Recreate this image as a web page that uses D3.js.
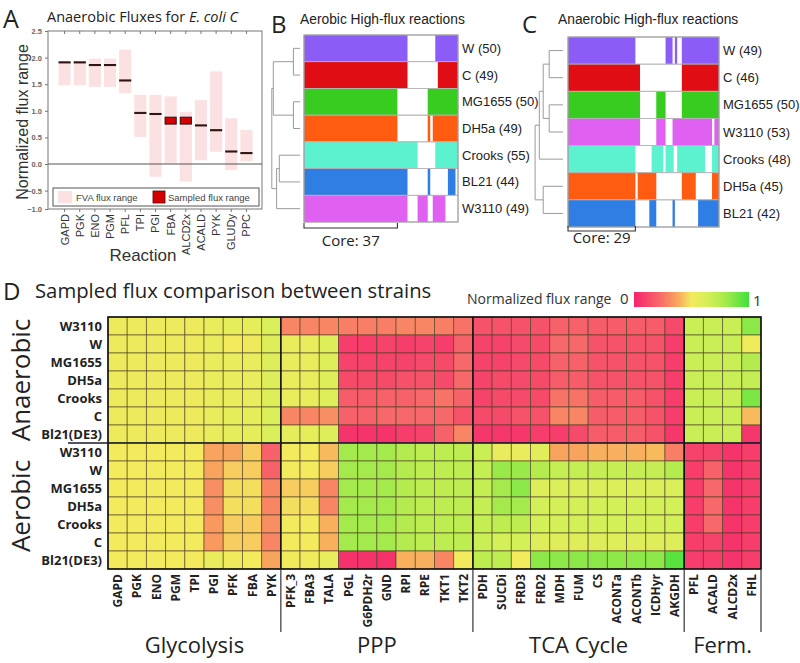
<!DOCTYPE html>
<html><head><meta charset="utf-8">
<script src="https://cdn.jsdelivr.net/npm/d3@7"></script>
<style>body{margin:0;background:#fff;} svg{display:block;}</style>
</head><body>
<svg id="chart" width="800" height="663"></svg>
<script>
// ================= DATA =================
// Panel A
const reactionsA = ["GAPD","PGK","ENO","PGM","PFL","TPI","PGI","FBA","ALCD2x","ACALD","PYK","GLUDy","PPC"];
const fvaLowA  = [1.48, 1.48, 1.45, 1.45, 1.33, 0.51, -0.24, 0.01, -0.33, 0.07, 0.23, -0.11, 0.05];
const fvaHighA = [1.93, 1.93, 1.98, 1.98, 2.15, 1.30, 1.30, 1.27, 0.98, 1.20, 1.74, 0.86, 0.64];
const sampledLowA  = [1.9, 1.9, 1.85, 1.85, 1.56, 0.95, 0.93, 0.75, 0.75, 0.715, 0.625, 0.225, 0.195];
const sampledHighA = [1.92, 1.92, 1.87, 1.87, 1.58, 0.97, 0.95, 0.88, 0.88, 0.735, 0.645, 0.245, 0.215];
const yTicksA = [-1.0, -0.5, 0.0, 0.5, 1.0, 1.5, 2.0, 2.5];

// Panel B (aerobic high-flux reactions)
const strainsB = ["W","C","MG1655","DH5a","Crooks","BL21","W3110"];
const countsB  = [50, 49, 50, 49, 55, 44, 49];
const segmentsB = [
  [[0,41],[52,61]],
  [[0,41],[53,61]],
  [[0,37],[49,61]],
  [[0,37],[49,50],[51,61]],
  [[0,45],[52,61]],
  [[0,41],[49,50],[57,60]],
  [[0,41],[45,49],[51,56]]
];
const nColsB = 61, coreB = 37;
const treeB = {h:0.94, children:[
  {h:0.89, children:[{h:0.22, children:["W","C"]},{h:0.22, children:["MG1655","DH5a"]}]},
  {h:0.78, children:[{h:0.69, children:["Crooks","BL21"]},"W3110"]}]};

// Panel C (anaerobic high-flux reactions)
const strainsC = ["W","C","MG1655","W3110","Crooks","DH5a","BL21"];
const countsC  = [49, 46, 50, 53, 48, 45, 42];
const segmentsC = [
  [[0,29],[42,45],[46,47],[49,65]],
  [[0,31],[49,65]],
  [[0,31],[38,42],[49,65]],
  [[0,31],[38,42],[45,62],[63,65]],
  [[0,29],[36,41],[42,45.5],[47,59],[62,65]],
  [[0,29],[30,38],[49,55],[62,65]],
  [[0,29],[35,38],[45,46],[56,65]]
];
const nColsC = 65, coreC = 29;
const treeC = {h:0.93, children:[
  {h:0.79, children:[{h:0.66, children:[{h:0.46, children:["W","C"]},{h:0.46, children:["MG1655","W3110"]}]},"Crooks"]},
  {h:0.66, children:["DH5a","BL21"]}]};

// Panel D
const conditionsD = ["Anaerobic","Aerobic"];
const strainRowsD = ["W3110","W","MG1655","DH5a","Crooks","C","Bl21(DE3)"];
const glycolysisRxns = ["GAPD","PGK","ENO","PGM","TPI","PGI","PFK","FBA","PYK"];
const pppRxns = ["PFK_3","FBA3","TALA","PGL","G6PDH2r","GND","RPI","RPE","TKT1","TKT2"];
const tcaRxns = ["PDH","SUCDi","FRD3","FRD2","MDH","FUM","CS","ACONTa","ACONTb","ICDHyr","AKGDH"];
const fermRxns = ["PFL","ACALD","ALCD2x","FHL"];
const pathwayNames = ["Glycolysis","PPP","TCA Cycle","Ferm."];
const anaerobicFlux = [
 [.53,.53,.53,.53,.53,.55,.57,.57,.62, .30,.30,.30,.28,.28,.28,.30,.30,.28,.25, .15,.15,.15,.15,.20,.20,.18,.18,.18,.18,.12, .68,.68,.68,.85],
 [.53,.53,.53,.53,.53,.55,.50,.53,.60, .55,.55,.60,.08,.08,.10,.08,.10,.08,.20, .10,.10,.12,.12,.22,.22,.15,.15,.15,.15,.08, .68,.68,.68,.52],
 [.53,.53,.53,.53,.53,.55,.55,.55,.60, .55,.55,.60,.10,.10,.10,.10,.12,.12,.22, .10,.10,.12,.12,.20,.20,.15,.15,.15,.15,.08, .68,.68,.68,.75],
 [.53,.53,.53,.53,.53,.55,.55,.55,.60, .55,.55,.60,.12,.12,.12,.14,.15,.12,.22, .10,.12,.12,.12,.18,.18,.15,.15,.15,.15,.08, .68,.68,.68,.70],
 [.53,.53,.53,.53,.53,.55,.55,.55,.60, .55,.55,.60,.18,.18,.20,.20,.22,.25,.20, .10,.12,.12,.12,.25,.25,.18,.18,.18,.15,.08, .68,.68,.68,.88],
 [.53,.53,.53,.53,.53,.55,.57,.57,.62, .30,.30,.32,.20,.20,.22,.22,.22,.22,.15, .12,.12,.15,.15,.30,.30,.18,.18,.18,.15,.08, .68,.68,.68,.42],
 [.53,.53,.53,.53,.53,.55,.57,.57,.62, .57,.57,.60,.05,.05,.05,.08,.10,.20,.30, .06,.06,.06,.08,.08,.12,.18,.18,.18,.15,.06, .68,.68,.68,.06]
];
const aerobicFlux = [
 [.50,.50,.50,.50,.50,.38,.38,.45,.20, .50,.50,.42,.80,.80,.80,.75,.72,.72,.72, .68,.55,.55,.58,.38,.38,.40,.40,.40,.42,.28, .10,.10,.05,.08],
 [.50,.50,.50,.50,.50,.38,.45,.45,.20, .50,.50,.45,.80,.80,.80,.75,.72,.72,.72, .70,.82,.82,.75,.70,.70,.70,.70,.70,.70,.75, .08,.20,.05,.08],
 [.50,.50,.50,.50,.50,.32,.48,.48,.30, .45,.45,.30,.80,.80,.80,.75,.72,.72,.72, .70,.80,.85,.60,.62,.62,.62,.62,.62,.62,.62, .08,.22,.05,.08],
 [.50,.50,.50,.50,.50,.32,.48,.48,.30, .48,.48,.30,.80,.80,.80,.75,.72,.72,.72, .70,.80,.80,.65,.65,.65,.65,.65,.65,.65,.65, .08,.22,.05,.08],
 [.50,.50,.50,.50,.50,.35,.45,.45,.32, .50,.50,.40,.80,.80,.80,.75,.72,.72,.72, .70,.72,.72,.65,.65,.65,.65,.65,.65,.65,.65, .08,.22,.05,.08],
 [.50,.50,.50,.50,.50,.35,.45,.45,.30, .50,.50,.40,.80,.80,.80,.75,.72,.72,.72, .68,.65,.65,.60,.60,.60,.60,.60,.60,.60,.60, .08,.10,.05,.08],
 [.50,.50,.50,.50,.50,.55,.52,.50,.38, .52,.52,.55,.04,.04,.04,.40,.40,.30,.50, .72,.72,.50,.85,.85,.85,.85,.85,.85,.85,.95, .08,.08,.05,.08]
];

// ================= STYLE =================
const SANS = "'Open Sans','Noto Sans',sans-serif";
const ARIAL = "'Liberation Sans',Arial,sans-serif";
const strainColor = {W:"#8b5cf6", C:"#e00d14", MG1655:"#38cc20", DH5a:"#ff5c12", Crooks:"#5df2cf", BL21:"#2f7ee3", W3110:"#e060f2"};
const fluxColor = d3.scaleLinear()
  .domain([0, 0.22, 0.38, 0.5, 0.65, 0.8, 1])
  .range(["#f5256c","#f7686a","#f9a45e","#f3ea5e","#d4f058","#a4ea4c","#3fe03a"]);

const svg = d3.select("#chart");

// ================= PANEL A =================
(function(){
  const g = svg.append("g");
  const L = 48, R = 262, T = 31, B = 209;
  const x = d3.scaleBand().domain(reactionsA).range([57, 254]).paddingInner(0.2).paddingOuter(0.1);
  const y = d3.scaleLinear().domain([-1, -0.5, 2.5]).range([B, 190.6, T]);

  g.append("text").attr("x", 3).attr("y", 28).text("A").style("font", `25px ${SANS}`).attr("fill","#222");
  const t = g.append("text").attr("x", 47).attr("y", 22).style("font", `14.5px ${SANS}`).attr("fill","#222");
  t.append("tspan").text("Anaerobic Fluxes for ");
  t.append("tspan").style("font-style","italic").text("E. coli C");

  g.append("rect").attr("x", L).attr("y", T).attr("width", R-L).attr("height", B-T)
    .attr("fill","none").attr("stroke","#777").attr("stroke-width",1);

  g.selectAll(".fva").data(reactionsA).join("rect")
    .attr("x", d => x(d)).attr("width", x.bandwidth())
    .attr("y", (d,i) => y(fvaHighA[i])).attr("height", (d,i) => y(fvaLowA[i]) - y(fvaHighA[i]))
    .attr("fill","#fbe1e1");

  g.append("line").attr("x1", L).attr("x2", R).attr("y1", y(0)).attr("y2", y(0))
    .attr("stroke","#555").attr("stroke-width",1.2);

  g.selectAll(".smp").data(reactionsA).join("rect")
    .attr("x", d => x(d)+0.5).attr("width", x.bandwidth()-1)
    .attr("y", (d,i) => y(sampledHighA[i]))
    .attr("height", (d,i) => Math.max(1, y(sampledLowA[i]) - y(sampledHighA[i])))
    .attr("fill","#d40000").attr("stroke","#2a1414").attr("stroke-width",1);

  const ay = g.append("g").attr("transform", `translate(${L},0)`)
    .call(d3.axisLeft(y).tickValues(yTicksA).tickFormat(d3.format(".1f")).tickSize(3));
  ay.select(".domain").remove();
  ay.selectAll("line").attr("stroke","#777");
  ay.selectAll("text").style("font", `bold 7.5px ${ARIAL}`).attr("fill","#666");

  const at = g.append("g").attr("transform", `translate(0,${T})`)
    .call(d3.axisTop(x).tickSize(-3).tickSizeOuter(0).tickFormat(""));
  at.select(".domain").remove();
  at.selectAll("line").attr("stroke","#777");

  const ax = g.append("g").attr("transform", `translate(0,${B})`)
    .call(d3.axisBottom(x).tickSize(3).tickSizeOuter(0));
  ax.select(".domain").remove();
  ax.selectAll("line").attr("stroke","#777");
  ax.selectAll("text").attr("transform","rotate(-90)").attr("text-anchor","end")
    .attr("x", -5).attr("y", 0).attr("dy","0.36em")
    .style("font", `11px ${ARIAL}`).attr("fill","#333");

  g.append("text").attr("x", 143).attr("y", 261).attr("text-anchor","middle")
    .style("font", `17px ${ARIAL}`).attr("fill","#333").text("Reaction");
  g.append("text").attr("transform","translate(28,122) rotate(-90)").attr("text-anchor","middle")
    .style("font", `16px ${ARIAL}`).attr("fill","#333").text("Normalized flux range");

  // legend
  const lg = g.append("g");
  lg.append("rect").attr("x", 53).attr("y", 188).attr("width", 206).attr("height", 18)
    .attr("fill","#fff").attr("stroke","#555").attr("stroke-width",1);
  lg.append("rect").attr("x", 58).attr("y", 191).attr("width", 14).attr("height", 12).attr("fill","#fbe1e1");
  lg.append("text").attr("x", 76).attr("y", 201).style("font", `9.5px ${ARIAL}`).attr("fill","#444").text("FVA flux range");
  lg.append("rect").attr("x", 153).attr("y", 191).attr("width", 12).attr("height", 12)
    .attr("fill","#d40000").attr("stroke","#500").attr("stroke-width",0.8);
  lg.append("text").attr("x", 168).attr("y", 201).style("font", `9.5px ${ARIAL}`).attr("fill","#444").text("Sampled flux range");
})();

// ================= PANELS B & C =================
function drawPresence(cfg) {
  const g = svg.append("g");
  g.append("text").attr("x", cfg.letterX).attr("y", 33).text(cfg.letter)
    .style("font", `24px ${SANS}`).attr("fill","#222");
  g.append("text").attr("x", cfg.titleX).attr("y", 24).text(cfg.title)
    .style("font", `13.8px ${ARIAL}`).attr("fill","#222");

  const x = d3.scaleLinear().domain([0, cfg.nCols]).range([cfg.x0, cfg.x1]);
  const y = d3.scaleBand().domain(cfg.strains).range([cfg.y0, cfg.y1]);

  cfg.strains.forEach((s, i) => {
    g.selectAll(null).data(cfg.segments[i]).join("rect")
      .attr("x", d => x(d[0])).attr("width", d => x(d[1]) - x(d[0]))
      .attr("y", y(s)).attr("height", y.bandwidth())
      .attr("fill", strainColor[s]);
    g.append("rect").attr("x", cfg.x0).attr("y", y(s)).attr("width", cfg.x1 - cfg.x0).attr("height", y.bandwidth())
      .attr("fill","none").attr("stroke","#b5b5b5").attr("stroke-width",0.8);
    g.append("text").attr("x", cfg.x1 + 4).attr("y", y(s) + y.bandwidth()/2 + 4.5)
      .style("font", `13px ${ARIAL}`).attr("fill","#222").text(`${s} (${cfg.counts[i]})`);
  });
  g.append("rect").attr("x", cfg.x0).attr("y", cfg.y0).attr("width", cfg.x1 - cfg.x0).attr("height", cfg.y1 - cfg.y0)
    .attr("fill","none").attr("stroke","#999").attr("stroke-width",1);

  // dendrogram
  const hx = d3.scaleLinear().domain([0,1]).range([cfg.treeX0, cfg.treeX1]);
  const dg = g.append("g").attr("stroke","#9a9a9a").attr("stroke-width",1).attr("fill","none");
  function walk(node) {
    if (typeof node === "string") return {y: y(node) + y.bandwidth()/2, h: 0};
    const kids = node.children.map(walk);
    const ys = kids.map(k => k.y);
    dg.append("line").attr("x1", hx(node.h)).attr("x2", hx(node.h)).attr("y1", d3.min(ys)).attr("y2", d3.max(ys));
    kids.forEach(k => dg.append("line").attr("x1", hx(node.h)).attr("x2", hx(k.h)).attr("y1", k.y).attr("y2", k.y));
    return {y: (d3.min(ys) + d3.max(ys))/2, h: node.h};
  }
  walk(cfg.tree);

  // core bracket
  const yb = cfg.y1 + cfg.bracketGap;
  g.append("path").attr("d", `M${x(0)},${yb-5}V${yb}H${x(cfg.core)}V${yb-5}`)
    .attr("fill","none").attr("stroke","#333").attr("stroke-width",1.1);
  g.append("text").attr("x", (x(0) + x(cfg.core))/2).attr("y", cfg.coreTextY).attr("text-anchor","middle")
    .style("font", `15px ${SANS}`).attr("fill","#222").text(`Core: ${cfg.core}`);
}

drawPresence({letter:"B", letterX:271, title:"Aerobic High-flux reactions", titleX:300,
  strains:strainsB, counts:countsB, segments:segmentsB, nCols:nColsB, core:coreB, tree:treeB,
  x0:304, x1:458, y0:35, y1:222, treeX0:300, treeX1:270, bracketGap:6, coreTextY:246});
drawPresence({letter:"C", letterX:522, title:"Anaerobic High-flux reactions", titleX:558,
  strains:strainsC, counts:countsC, segments:segmentsC, nCols:nColsC, core:coreC, tree:treeC,
  x0:568, x1:719, y0:37, y1:227, treeX0:563, treeX1:533, bracketGap:4, coreTextY:243});

// ================= PANEL D =================
(function(){
  const g = svg.append("g");
  const groups = [glycolysisRxns, pppRxns, tcaRxns, fermRxns];
  const allRxns = groups.flat();
  const rowKeys = conditionsD.flatMap(c => strainRowsD.map(s => c + "|" + s));
  const L = 108, R = 761, T = 317, B = 569;
  const x = d3.scaleBand().domain(allRxns).range([L, R]);
  const y = d3.scaleBand().domain(rowKeys).range([T, B]);

  g.append("text").attr("x", 3).attr("y", 300).text("D").style("font", `24px ${SANS}`).attr("fill","#222");
  g.append("text").attr("x", 35).attr("y", 298).text("Sampled flux comparison between strains")
    .style("font", `20.3px ${SANS}`).attr("fill","#222");

  // legend
  const defs = svg.append("defs");
  const grad = defs.append("linearGradient").attr("id","fluxGrad");
  d3.range(0, 1.0001, 0.1).forEach(v => grad.append("stop").attr("offset", v).attr("stop-color", fluxColor(v)));
  g.append("text").attr("x", 467).attr("y", 304).style("font", `14px ${SANS}`).attr("fill","#333").text("Normalized flux range");
  g.append("text").attr("x", 620).attr("y", 304).style("font", `15px ${SANS}`).attr("fill","#333").text("0");
  g.append("rect").attr("x", 634).attr("y", 292).attr("width", 115).attr("height", 15).attr("fill","url(#fluxGrad)");
  g.append("text").attr("x", 753).attr("y", 306).style("font", `15px ${SANS}`).attr("fill","#333").text("1");

  // cells
  const data = [];
  conditionsD.forEach((c, ci) => {
    const M = ci === 0 ? anaerobicFlux : aerobicFlux;
    strainRowsD.forEach((s, si) => allRxns.forEach((r, ri) => data.push({k: c + "|" + s, r, v: M[si][ri]})));
  });
  g.selectAll(".cell").data(data).join("rect")
    .attr("x", d => x(d.r)).attr("y", d => y(d.k))
    .attr("width", x.bandwidth()).attr("height", y.bandwidth())
    .attr("fill", d => fluxColor(d.v))
    .attr("stroke","rgba(70,60,30,0.65)").attr("stroke-width",0.9);

  // group borders
  const bounds = [L];
  let acc = 0;
  groups.forEach(gr => { acc += gr.length; bounds.push(acc < allRxns.length ? x(allRxns[acc]) : R); });
  g.append("rect").attr("x", L).attr("y", T).attr("width", R-L).attr("height", B-T)
    .attr("fill","none").attr("stroke","#111").attr("stroke-width",1.6);
  bounds.slice(1, -1).forEach(bx => g.append("line").attr("x1", bx).attr("x2", bx).attr("y1", T).attr("y2", B)
    .attr("stroke","#111").attr("stroke-width",1.6));
  bounds.slice(1).forEach(bx => g.append("line").attr("x1", bx).attr("x2", bx).attr("y1", B).attr("y2", 632)
    .attr("stroke","#333").attr("stroke-width",1.2));
  const midY = y(rowKeys[strainRowsD.length]);
  g.append("line").attr("x1", 68).attr("x2", R).attr("y1", midY).attr("y2", midY)
    .attr("stroke","#1a1a2e").attr("stroke-width",1.6);

  // row labels
  g.selectAll(".rl").data(rowKeys).join("text")
    .attr("x", 102).attr("y", d => y(d) + y.bandwidth()/2 + 4.5).attr("text-anchor","end")
    .style("font", `bold 13px ${SANS}`).attr("fill","#222").text(d => d.split("|")[1]);

  // condition labels
  conditionsD.forEach(c => {
    const ks = rowKeys.filter(k => k.startsWith(c + "|"));
    const cy = (y(ks[0]) + y(ks[ks.length-1]) + y.bandwidth())/2;
    g.append("text").attr("transform", `translate(30,${cy}) rotate(-90)`).attr("text-anchor","middle")
      .style("font", `26px ${SANS}`).attr("fill","#222").text(c);
  });

  // column labels
  g.selectAll(".cl").data(allRxns).join("text")
    .attr("transform", d => `translate(${x(d) + x.bandwidth()/2 + 4.5},${B + 5}) rotate(-90)`)
    .attr("text-anchor","end").style("font", `bold 12px ${SANS}`).attr("fill","#222").text(d => d);

  // pathway labels
  pathwayNames.forEach((p, i) => {
    g.append("text").attr("x", (bounds[i] + bounds[i+1])/2).attr("y", 653).attr("text-anchor","middle")
      .style("font", `22px ${SANS}`).attr("fill","#222").text(p);
  });
})();
</script>
</body></html>
